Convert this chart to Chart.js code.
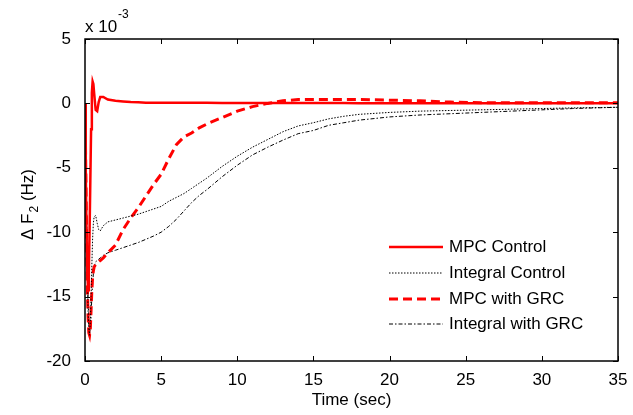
<!DOCTYPE html>
<html>
<head>
<meta charset="utf-8">
<script src="https://cdn.jsdelivr.net/npm/chart.js@4.4.1/dist/chart.umd.min.js"></script>
<style>
  html, body { margin: 0; padding: 0; background: #fff; }
</style>
</head>
<body>
<canvas id="freq-chart" width="633" height="415"></canvas>
<script>
// time axis (sec)
const timeSec = [0, 0.05, 0.1, 0.15, 0.2, 0.25, 0.3, 0.35, 0.4, 0.45, 0.5, 0.55, 0.6, 0.7, 0.8, 0.9, 1.0, 1.2, 1.5,
  2, 2.5, 3, 3.5, 4, 4.5, 5, 5.5, 6, 6.5, 7, 7.5, 8, 9, 10, 11, 12, 13, 14, 15, 16, 17, 18, 20, 22, 24, 26, 28, 30, 32, 35];

// delta F2, in units of 1e-3 Hz
const mpcControl = [0, -5, -10, -13, -14.5, -13, -10, -6, -2, 0.8, 1.7, 1.5, 0.8, -0.5, -0.6, 0.1, 0.5, 0.5, 0.3,
  0.2, 0.15, 0.1, 0.08, 0.06, 0.05, 0.05, 0.05, 0.05, 0.05, 0.05, 0.05, 0.05, 0.04, 0.04, 0.04, 0.03, 0.03, 0.03, 0.03, 0.03, 0.03, 0.02, 0.02, 0.02, 0.02, 0.02, 0.02, 0.02, 0.02, 0.02];
const integralControl = [0, -4, -9, -13, -16, -17.5, -18, -17, -15, -12.5, -10.5, -9.3, -8.8, -8.7, -9.3, -9.8, -9.9, -9.5, -9.2,
  -9.05, -8.9, -8.75, -8.6, -8.4, -8.2, -8.0, -7.6, -7.3, -7.0, -6.6, -6.2, -5.8, -4.9, -4.1, -3.4, -2.8, -2.2, -1.75, -1.5, -1.2, -1.0, -0.85, -0.7, -0.6, -0.55, -0.5, -0.45, -0.4, -0.35, -0.3];
const mpcWithGrc = [0, -5, -10, -14, -16.5, -17.8, -18, -17.5, -16, -14.5, -13.5, -13, -12.7, -12.5, -12.4, -12.3, -12.2, -12.0, -11.6,
  -11.0, -9.8, -8.9, -8.1, -7.2, -6.3, -5.5, -4.3, -3.2, -2.6, -2.3, -1.9, -1.6, -1.1, -0.6, -0.25, 0, 0.2, 0.3, 0.3, 0.3, 0.3, 0.3, 0.25, 0.2, 0.1, 0.05, 0.05, 0.05, 0.05, 0.05];
const integralWithGrc = [0, -4, -8, -12, -15, -17, -17.8, -17.5, -16.5, -15, -14, -13.2, -12.7, -12.3, -12.2, -12.1, -12.0, -11.8, -11.6,
  -11.4, -11.2, -11.0, -10.8, -10.55, -10.3, -10.0, -9.55, -9.0, -8.35, -7.7, -7.15, -6.7, -5.7, -4.8, -4.0, -3.4, -2.85, -2.35, -2.1, -1.7, -1.5, -1.3, -1.05, -0.9, -0.8, -0.7, -0.6, -0.5, -0.4, -0.3];

const xTicks = [0, 5, 10, 15, 20, 25, 30, 35];
const yTicks = [-20, -15, -10, -5, 0, 5];

const FONT = '"Liberation Sans", Arial, sans-serif';

function toPoints(values) {
  return timeSec.map((t, i) => ({ x: t, y: values[i] }));
}

// MATLAB-like box with inward ticks, exponent label, y label and legend
const matlabAxes = {
  id: 'matlabAxes',
  afterDraw(chart) {
    const ctx = chart.ctx;
    const a = chart.chartArea;
    const xs = chart.scales.x;
    const ys = chart.scales.y;
    const tl = 5;
    ctx.save();
    ctx.strokeStyle = '#000';
    ctx.lineWidth = 1.5;
    ctx.strokeRect(a.left, a.top, a.right - a.left, a.bottom - a.top);
    ctx.lineWidth = 1;
    ctx.beginPath();
    xs.ticks.forEach(t => {
      const px = Math.round(xs.getPixelForValue(t.value)) + 0.5;
      ctx.moveTo(px, a.bottom); ctx.lineTo(px, a.bottom - tl);
      ctx.moveTo(px, a.top); ctx.lineTo(px, a.top + tl);
    });
    ys.ticks.forEach(t => {
      const py = Math.round(ys.getPixelForValue(t.value)) + 0.5;
      ctx.moveTo(a.left, py); ctx.lineTo(a.left + tl, py);
      ctx.moveTo(a.right, py); ctx.lineTo(a.right - tl, py);
    });
    ctx.stroke();

    // exponent
    ctx.fillStyle = '#000';
    ctx.textBaseline = 'middle';
    ctx.textAlign = 'left';
    ctx.font = '17px ' + FONT;
    ctx.fillText('x 10', a.left, a.top - 12);
    ctx.font = '12px ' + FONT;
    ctx.fillText('-3', a.left + 33, a.top - 24);

    // y axis label with subscript
    ctx.save();
    ctx.translate(28, 205);
    ctx.rotate(-Math.PI / 2);
    const main = '\u0394 F';
    const rest = ' (Hz)';
    ctx.font = '12px ' + FONT;
    const wSub = ctx.measureText('2').width;
    ctx.font = '17px ' + FONT;
    const wMain = ctx.measureText(main).width;
    const wRest = ctx.measureText(rest).width;
    const x0 = -(wMain + wSub + wRest) / 2;
    ctx.fillText(main, x0, 0);
    ctx.font = '12px ' + FONT;
    ctx.fillText('2', x0 + wMain + 1, 7);
    ctx.font = '17px ' + FONT;
    ctx.fillText(rest, x0 + wMain + wSub + 1, 0);
    ctx.restore();

    // legend
    const rows = [247, 273, 299, 324];
    chart.data.datasets.forEach((ds, i) => {
      const y = rows[i];
      ctx.save();
      ctx.strokeStyle = ds.borderColor;
      ctx.lineWidth = ds.borderWidth;
      ctx.setLineDash(ds.borderDash || []);
      ctx.beginPath();
      ctx.moveTo(389, y);
      ctx.lineTo(443, y);
      ctx.stroke();
      ctx.restore();
      ctx.font = '17px ' + FONT;
      ctx.fillStyle = '#000';
      ctx.textBaseline = 'middle';
      ctx.textAlign = 'left';
      ctx.fillText(ds.label, 449, y);
    });
    ctx.restore();
  }
};

new Chart(document.getElementById('freq-chart'), {
  type: 'line',
  data: {
    datasets: [
      { label: 'MPC Control', data: toPoints(mpcControl), borderColor: '#ff0000', borderWidth: 2.5 },
      { label: 'Integral Control', data: toPoints(integralControl), borderColor: '#000000', borderWidth: 1, borderDash: [1.5, 1.5] },
      { label: 'MPC with GRC', data: toPoints(mpcWithGrc), borderColor: '#ff0000', borderWidth: 3, borderDash: [9, 5] },
      { label: 'Integral with GRC', data: toPoints(integralWithGrc), borderColor: '#000000', borderWidth: 1, borderDash: [4, 2, 1.5, 2] }
    ]
  },
  options: {
    responsive: false,
    animation: false,
    devicePixelRatio: 1,
    elements: { point: { radius: 0 }, line: { tension: 0 } },
    layout: { padding: { top: 39, right: 15, left: 0, bottom: 0 } },
    plugins: { legend: { display: false }, tooltip: { enabled: false } },
    scales: {
      x: {
        type: 'linear', min: 0, max: 35,
        afterBuildTicks: s => { s.ticks = xTicks.map(v => ({ value: v })); },
        afterFit: s => { s.height = 54; },
        grid: { display: false }, border: { display: false },
        ticks: { color: '#000', font: { family: FONT, size: 17 }, padding: 1, maxRotation: 0 },
        title: { display: true, text: 'Time (sec)', color: '#000', font: { family: FONT, size: 17 }, padding: { top: 0 } }
      },
      y: {
        type: 'linear', min: -20, max: 5,
        afterBuildTicks: s => { s.ticks = yTicks.map(v => ({ value: v })); },
        afterFit: s => { s.width = 85; },
        grid: { display: false }, border: { display: false },
        ticks: { color: '#000', font: { family: FONT, size: 17 }, padding: 6 }
      }
    }
  },
  plugins: [matlabAxes]
});
</script>
</body>
</html>
